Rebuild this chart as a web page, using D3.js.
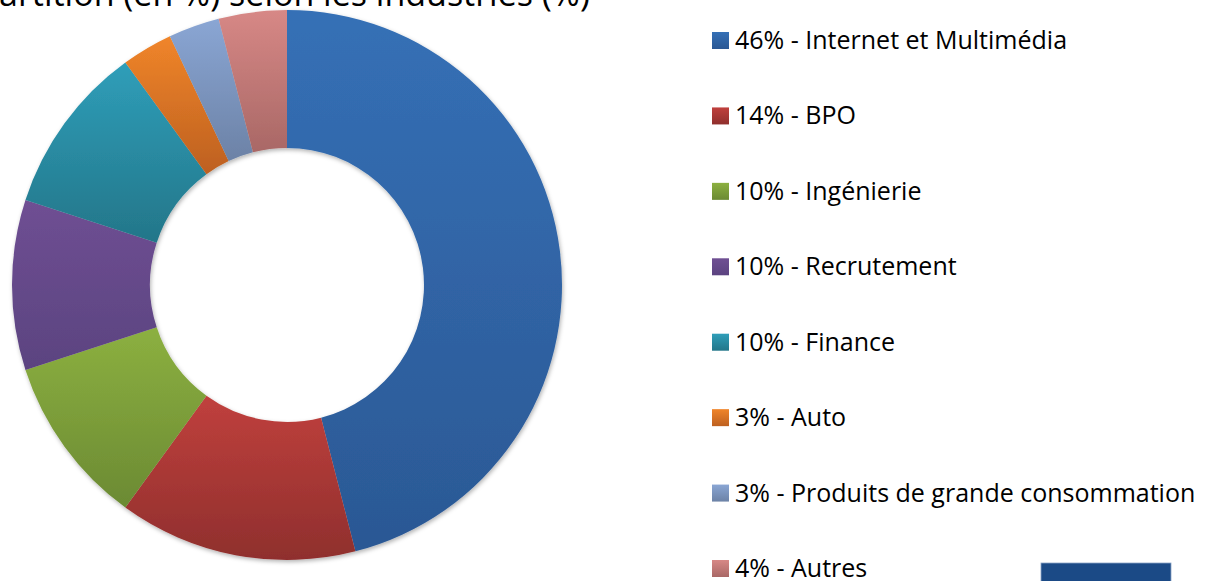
<!DOCTYPE html>
<html>
<head>
<meta charset="utf-8">
<script src="https://cdn.jsdelivr.net/npm/d3@7"></script>
<style>
  body { margin: 0; background: #fff; }
  svg { display: block; }
</style>
</head>
<body>
<div id="chart"></div>
<script>
// data
const categories = ["Internet et Multimédia", "BPO", "Ingénierie", "Recrutement",
                    "Finance", "Auto", "Produits de grande consommation", "Autres"];
const values = [46, 14, 10, 10, 10, 3, 3, 4];
const colorsTop = ["#3570b6", "#c0403d", "#8cb040", "#6f4f93", "#2f9eb9", "#f0852a", "#8aa6d4", "#d78886"];
const colorsBottom = ["#2b5894", "#8f2f2d", "#6b8a33", "#5b4380", "#237689", "#bd6020", "#6c82a6", "#a96866"];
const titleText = "Répartition (en %) selon les industries (%)";

const width = 1206, height = 581;
const cx = 287, cy = 285, outerR = 275, innerR = 137;

const svg = d3.select("#chart").append("svg")
    .attr("width", width)
    .attr("height", height);

const defs = svg.append("defs");

const shadow = defs.append("filter")
    .attr("id", "shadow")
    .attr("x", "-10%").attr("y", "-10%")
    .attr("width", "120%").attr("height", "120%");
shadow.append("feDropShadow")
    .attr("dx", 1).attr("dy", 2)
    .attr("stdDeviation", 2)
    .attr("flood-color", "#000")
    .attr("flood-opacity", 0.3);

// one vertical gradient per slice, light at top to dark at bottom
categories.forEach((c, i) => {
    const g = defs.append("linearGradient")
        .attr("id", "grad" + i)
        .attr("x1", 0).attr("y1", 0).attr("x2", 0).attr("y2", 1);
    g.append("stop").attr("offset", "0%").attr("stop-color", colorsTop[i]);
    g.append("stop").attr("offset", "100%").attr("stop-color", colorsBottom[i]);
});

// title, mostly cut off by the top edge
svg.append("text")
    .attr("x", 590)
    .attr("y", 6)
    .attr("text-anchor", "end")
    .style("font-family", "'Open Sans', sans-serif")
    .style("font-size", "34px")
    .style("fill", "#000")
    .text(titleText);

const pie = d3.pie().sort(null).value(d => d)(values);
const arc = d3.arc().innerRadius(innerR).outerRadius(outerR);

const donut = svg.append("g")
    .attr("transform", `translate(${cx},${cy})`)
    .attr("filter", "url(#shadow)");

donut.selectAll("path")
    .data(pie)
    .join("path")
    .attr("d", arc)
    .attr("fill", (d, i) => `url(#grad${i})`);

// legend
const legendY = d3.scalePoint()
    .domain(d3.range(categories.length))
    .range([40, 568]);

const legend = svg.append("g");

const rows = legend.selectAll("g")
    .data(categories)
    .join("g")
    .attr("transform", (d, i) => `translate(712,${legendY(i)})`);

rows.append("rect")
    .attr("x", 0)
    .attr("y", -8)
    .attr("width", 17)
    .attr("height", 17)
    .attr("fill", (d, i) => `url(#grad${i})`);

rows.append("text")
    .attr("x", 23)
    .attr("y", 0)
    .attr("dy", "0.36em")
    .style("font-family", "'Open Sans', sans-serif")
    .style("font-size", "25px")
    .style("fill", "#000")
    .text((d, i) => `${values[i]}% - ${d}`);

// dark blue block cut off at bottom right
svg.append("rect")
    .attr("x", 1041)
    .attr("y", 563)
    .attr("width", 130)
    .attr("height", 30)
    .attr("fill", "#1b4a86")
    .attr("stroke", "#8aa3c6")
    .attr("stroke-width", 0.8);
</script>
</body>
</html>
